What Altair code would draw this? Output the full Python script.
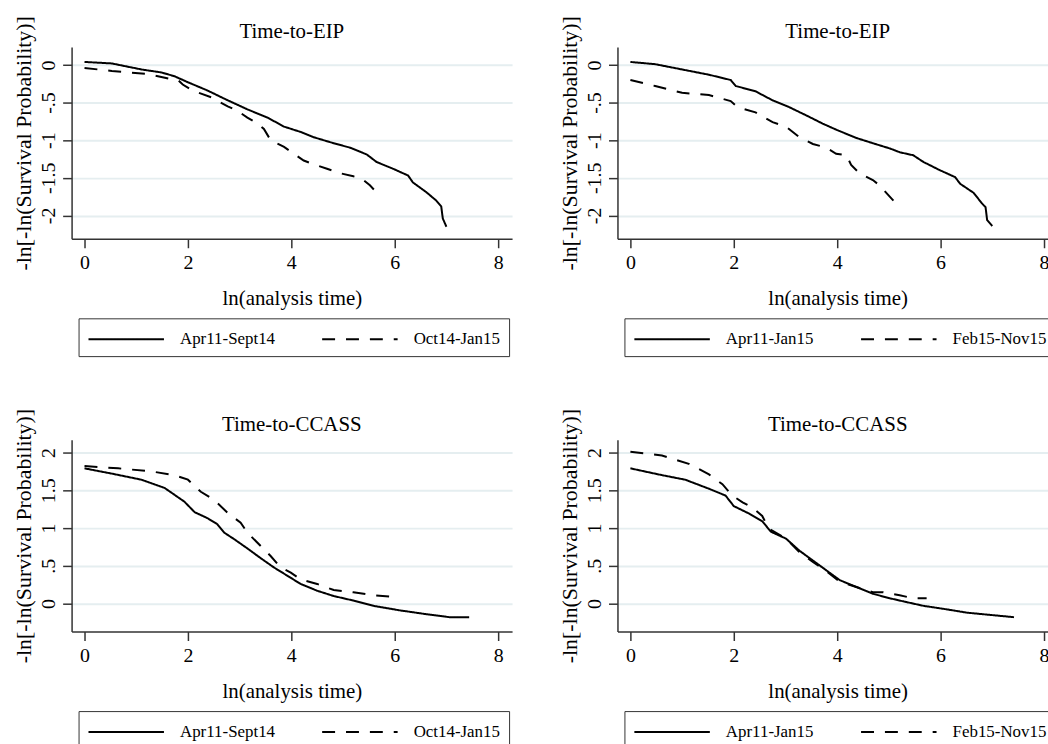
import altair as alt
import pandas as pd

# ---------------- data ----------------
# Panel 1: Time-to-EIP, Apr11-Sept14 vs Oct14-Jan15
p1_solid_x = [0, 0.53, 1.1, 1.49, 1.74, 2.0, 2.38, 2.77, 3.15, 3.54, 3.86, 4.18, 4.43, 4.82, 5.14, 5.46, 5.65, 5.97, 6.26, 6.35, 6.61, 6.80, 6.90, 6.93, 7.0]
p1_solid_y = [0.04, 0.02, -0.06, -0.10, -0.15, -0.23, -0.34, -0.47, -0.59, -0.70, -0.82, -0.89, -0.96, -1.04, -1.10, -1.19, -1.29, -1.38, -1.47, -1.56, -1.69, -1.80, -1.88, -2.04, -2.15]
p1_dash_x = [0, 0.53, 1.23, 1.62, 1.81, 1.90, 2.09, 2.45, 2.77, 2.96, 3.15, 3.35, 3.47, 3.60, 3.86, 4.05, 4.24, 4.43, 4.69, 4.95, 5.20, 5.36, 5.52, 5.70]
p1_dash_y = [-0.04, -0.08, -0.12, -0.18, -0.20, -0.26, -0.34, -0.43, -0.55, -0.61, -0.70, -0.78, -0.85, -1.00, -1.09, -1.18, -1.27, -1.32, -1.38, -1.44, -1.48, -1.51, -1.60, -1.73]

# Panel 2: Time-to-EIP, Apr11-Jan15 vs Feb15-Nov15
p2_solid_x = [0, 0.48, 1.0, 1.52, 1.94, 2.04, 2.42, 2.75, 3.07, 3.46, 3.72, 3.98, 4.37, 4.69, 5.02, 5.21, 5.47, 5.67, 5.99, 6.28, 6.38, 6.64, 6.80, 6.87, 6.90, 7.0]
p2_solid_y = [0.04, 0.01, -0.06, -0.13, -0.20, -0.28, -0.35, -0.47, -0.56, -0.69, -0.78, -0.86, -0.97, -1.04, -1.11, -1.16, -1.20, -1.29, -1.40, -1.49, -1.58, -1.70, -1.84, -1.89, -2.06, -2.14]
p2_dash_x = [0, 0.48, 1.0, 1.52, 1.68, 1.94, 2.07, 2.42, 2.75, 3.01, 3.27, 3.53, 3.79, 3.98, 4.18, 4.27, 4.43, 4.69, 4.82, 4.99, 5.15]
p2_dash_y = [-0.20, -0.28, -0.37, -0.40, -0.43, -0.48, -0.56, -0.63, -0.76, -0.82, -0.96, -1.05, -1.10, -1.18, -1.20, -1.33, -1.44, -1.53, -1.60, -1.73, -1.85]

# Panel 3: Time-to-CCASS, Apr11-Sept14 vs Oct14-Jan15
p3_solid_x = [0, 0.53, 1.10, 1.55, 1.74, 1.93, 2.13, 2.38, 2.57, 2.70, 2.90, 3.15, 3.41, 3.66, 3.92, 4.18, 4.50, 4.82, 5.20, 5.59, 6.10, 6.61, 7.06, 7.44]
p3_solid_y = [1.79, 1.72, 1.64, 1.53, 1.44, 1.35, 1.21, 1.13, 1.05, 0.94, 0.85, 0.73, 0.60, 0.48, 0.37, 0.26, 0.17, 0.10, 0.04, -0.03, -0.09, -0.14, -0.18, -0.18]
p3_dash_x = [0, 0.65, 1.29, 1.74, 2.0, 2.25, 2.51, 2.77, 3.02, 3.15, 3.41, 3.60, 3.79, 3.99, 4.18, 4.50, 4.82, 5.20, 5.59, 5.97]
p3_dash_y = [1.82, 1.79, 1.75, 1.70, 1.64, 1.48, 1.37, 1.20, 1.07, 0.94, 0.76, 0.63, 0.48, 0.41, 0.32, 0.26, 0.18, 0.15, 0.11, 0.09]

# Panel 4: Time-to-CCASS, Apr11-Jan15 vs Feb15-Nov15
p4_solid_x = [0, 0.61, 1.06, 1.52, 1.84, 2.0, 2.30, 2.55, 2.72, 3.01, 3.27, 3.53, 3.79, 4.05, 4.37, 4.69, 5.02, 5.34, 5.67, 6.06, 6.51, 6.96, 7.42]
p4_solid_y = [1.79, 1.70, 1.64, 1.52, 1.43, 1.29, 1.19, 1.09, 0.95, 0.86, 0.70, 0.57, 0.44, 0.31, 0.22, 0.13, 0.07, 0.02, -0.03, -0.07, -0.12, -0.15, -0.18]
p4_dash_x = [0, 0.61, 1.13, 1.52, 1.78, 1.97, 2.17, 2.36, 2.55, 2.68, 3.01, 3.27, 3.53, 3.79, 4.05, 4.37, 4.69, 4.89, 5.21, 5.47, 5.73]
p4_dash_y = [2.01, 1.96, 1.85, 1.71, 1.58, 1.43, 1.34, 1.27, 1.16, 0.99, 0.86, 0.68, 0.55, 0.43, 0.29, 0.22, 0.15, 0.15, 0.11, 0.07, 0.07]

titles = ["Time-to-EIP", "Time-to-EIP", "Time-to-CCASS", "Time-to-CCASS"]
left_series = ["Apr11-Sept14", "Oct14-Jan15"]
right_series = ["Apr11-Jan15", "Feb15-Nov15"]
x_ticks = [0, 2, 4, 6, 8]
y_ticks_eip = [0, -0.5, -1, -1.5, -2]
y_ticks_ccass = [0, 0.5, 1, 1.5, 2]

FONT = "Liberation Serif"
X_DOMAIN = [-0.25, 8.27]
EIP_DOMAIN = [-2.31, 0.24]
CCASS_DOMAIN = [-0.37, 2.17]


def make_df(sx, sy, dx, dy, names):
    rows = [{"x": a, "y": b, "s": names[0]} for a, b in zip(sx, sy)]
    rows += [{"x": a, "y": b, "s": names[1]} for a, b in zip(dx, dy)]
    return pd.DataFrame(rows)


def panel(df, title, names, ydomain, yticks):
    return alt.Chart(df).mark_line(color="black", strokeWidth=2).encode(
        x=alt.X("x:Q", scale=alt.Scale(domain=X_DOMAIN, nice=False, zero=False),
                axis=alt.Axis(values=x_ticks, title="ln(analysis time)", grid=False,
                              labelAngle=0, labelPadding=5, titlePadding=15)),
        y=alt.Y("y:Q", scale=alt.Scale(domain=ydomain, nice=False, zero=False),
                axis=alt.Axis(values=yticks, title="-ln[-ln(Survival Probability)]", grid=True,
                              labelAngle=-90, labelAlign="center", labelBaseline="bottom",
                              labelPadding=4, titlePadding=3, titleFontSize=22,
                              labelExpr="replace(toString(datum.value), '0.', '.')")),
        strokeDash=alt.StrokeDash(
            "s:N",
            scale=alt.Scale(domain=names, range=[[1, 0], [13, 11]]),
            legend=alt.Legend(orient="none", legendX=7, legendY=273, direction="horizontal",
                              title=None, strokeColor="#333", fillColor="white", padding=9,
                              symbolType="M-1,0H5.9", symbolSize=484, symbolStrokeWidth=2,
                              symbolStrokeColor="black", labelFont=FONT, labelFontSize=17,
                              labelColor="black", labelOffset=69, columnPadding=43,
                              cornerRadius=0),
        ),
        order=alt.Order("x:Q"),
    ).properties(
        width=443, height=193,
        title=alt.TitleParams(title, font=FONT, fontSize=21, fontWeight="normal",
                              color="black", anchor="middle", offset=-27),
    )


c1 = panel(make_df(p1_solid_x, p1_solid_y, p1_dash_x, p1_dash_y, left_series), titles[0], left_series, EIP_DOMAIN, y_ticks_eip)
c2 = panel(make_df(p2_solid_x, p2_solid_y, p2_dash_x, p2_dash_y, right_series), titles[1], right_series, EIP_DOMAIN, y_ticks_eip)
c3 = panel(make_df(p3_solid_x, p3_solid_y, p3_dash_x, p3_dash_y, left_series), titles[2], left_series, CCASS_DOMAIN, y_ticks_ccass)
c4 = panel(make_df(p4_solid_x, p4_solid_y, p4_dash_x, p4_dash_y, right_series), titles[3], right_series, CCASS_DOMAIN, y_ticks_ccass)

top = alt.hconcat(c1, c2, spacing=46).resolve_scale(strokeDash="independent", y="independent")
bottom = alt.hconcat(c3, c4, spacing=46).resolve_scale(strokeDash="independent", y="independent")

chart = alt.vconcat(top, bottom, spacing=51).resolve_scale(
    strokeDash="independent", y="independent"
).configure(
    padding={"left": 12, "top": 13, "right": -10, "bottom": 0},
    background="white",
).configure_view(stroke=None).configure_axis(
    labelFont=FONT, labelFontSize=20, labelColor="black",
    titleFont=FONT, titleFontSize=21, titleFontWeight="normal", titleColor="black",
    domainColor="#333", tickColor="#333", tickSize=9, domainWidth=1.5, tickWidth=1.5,
    gridColor="#e5eef0", gridWidth=2,
)

chart.save("out.html", embed_options={"renderer": "svg", "actions": False})
